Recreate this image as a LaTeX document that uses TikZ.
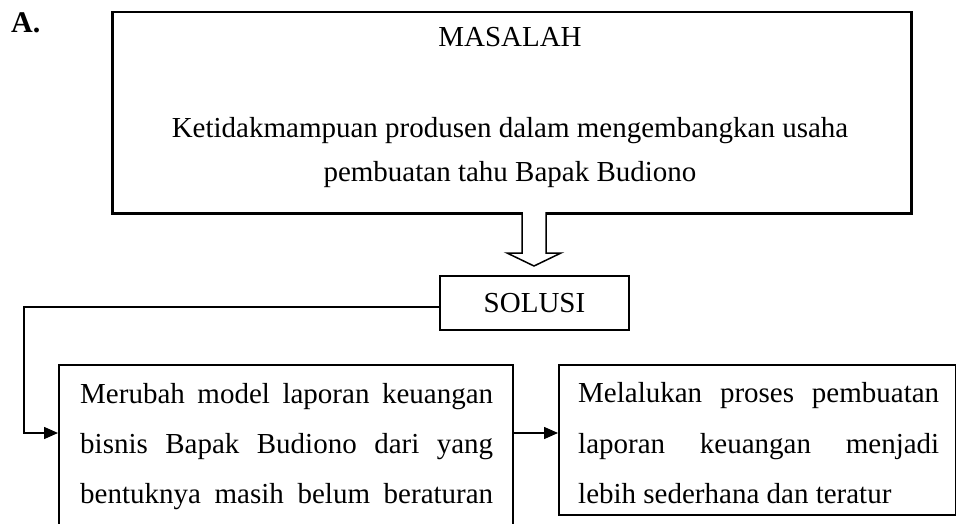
\documentclass[tikz,border=0pt]{standalone}
\usepackage{fontspec}
\setmainfont{Liberation Serif}
\usetikzlibrary{arrows.meta}
\begin{document}
\begin{tikzpicture}[x=1pt,y=-1pt,
  boxframe/.style={draw,line width=1.5pt,inner sep=0pt},
  bodytext/.style={inner sep=0pt,font=\fontsize{29}{50}\selectfont},
  arr/.style={line width=1.5pt,-{Triangle[length=14pt,width=12pt]}}]
\useasboundingbox (0,0) rectangle (956,524);
% label
\node[inner sep=0pt,anchor=base west,font=\fontsize{30}{36}\selectfont\bfseries] (lbl) at (11,33) {A.};
% problem box
\node[boxframe,line width=2.5pt,anchor=north west,minimum width=799pt,minimum height=201pt] (masalah) at (111,11) {};
\node[bodytext,anchor=base] (m1) at (510,47) {MASALAH};
\node[bodytext,anchor=base] (m2) at (510,138) {Ketidakmampuan produsen dalam mengembangkan usaha};
\node[bodytext,anchor=base] (m3) at (510,182) {pembuatan tahu Bapak Budiono};
% hollow arrow
\draw[line width=1.5pt,fill=white] (522,212) -- (522,253) -- (507,253) -- (534,266) -- (561,253) -- (546,253) -- (546,212);
% solution box
\node[boxframe,bodytext,draw,line width=1.5pt,minimum width=189pt,minimum height=54pt] (solusi) at (534.5,303) {SOLUSI};
% left box
\node[boxframe,anchor=north west,minimum width=454pt,minimum height=164pt] (left) at (58,364) {};
\node[bodytext,anchor=base west] (l1) at (80,403) {\hbox to 413pt{Merubah model laporan keuangan}};
\node[bodytext,anchor=base west] (l2) at (80,453) {\hbox to 413pt{bisnis Bapak Budiono dari yang}};
\node[bodytext,anchor=base west] (l3) at (80,503) {\hbox to 413pt{bentuknya masih belum beraturan}};
% right box
\node[boxframe,anchor=north west,minimum width=397pt,minimum height=150pt] (right) at (558,364) {};
\node[bodytext,anchor=base west] (r1) at (578,402) {\hbox to 361pt{Melalukan proses pembuatan}};
\node[bodytext,anchor=base west] (r2) at (578,453) {\hbox to 361pt{laporan keuangan menjadi}};
\node[bodytext,anchor=base west] (r3) at (578,503) {lebih sederhana dan teratur};
% connectors
\coordinate (turn) at (24,433);
\draw[arr] ([yshift=-4pt]solusi.west) -| (turn) -- (turn -| left.west);
\draw[arr] (turn -| left.east) -- (turn -| right.west);
\end{tikzpicture}
\end{document}
